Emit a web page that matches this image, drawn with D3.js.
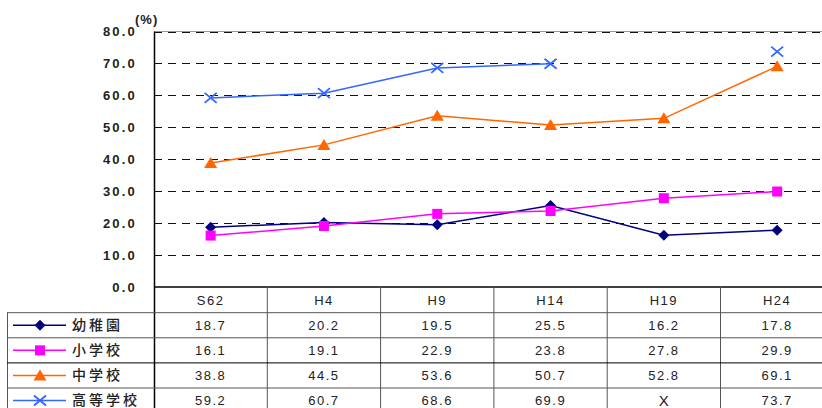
<!DOCTYPE html>
<html><head><meta charset="utf-8">
<script src="https://cdn.jsdelivr.net/npm/d3@7"></script>
<style>
html,body{margin:0;padding:0;background:#fff;}
svg{display:block;}
</style></head>
<body>
<script>
const categories = ["S62","H4","H9","H14","H19","H24"];
const seriesNames = ["幼稚園","小学校","中学校","高等学校"];
const kindergarten = [18.7,20.2,19.5,25.5,16.2,17.8];
const elementary = [16.1,19.1,22.9,23.8,27.8,29.9];
const juniorHigh = [38.8,44.5,53.6,50.7,52.8,69.1];
const highSchool = [59.2,60.7,68.6,69.9,null,73.7];
const yTicks = [0,10,20,30,40,50,60,70,80];
const missingLabel = "X";

(function(){
const series = [
  {name:seriesNames[0], values:kindergarten, color:"#000080", marker:"diamond"},
  {name:seriesNames[1], values:elementary, color:"#FF00FF", marker:"square"},
  {name:seriesNames[2], values:juniorHigh, color:"#FF6600", marker:"triangle"},
  {name:seriesNames[3], values:highSchool, color:"#3366FF", marker:"cross"}
];

const W = 822, H = 408;
const plotLeft = 154, colW = 113.3;
const plotTop = 31.5, plotBottom = 287;
const tableLeft = 7;
const headerBottom = 312.7, rowH = 25.1;

const svg = d3.select("body").append("svg").attr("width", W).attr("height", H);

const x = d3.scaleBand().domain(categories).range([plotLeft, plotLeft + colW*categories.length]).padding(0);
const y = d3.scaleLinear().domain([0,80]).range([plotBottom, plotTop]);

// gridlines
svg.append("line").attr("x1", plotLeft).attr("x2", W).attr("y1", y(80)).attr("y2", y(80))
  .attr("stroke", "#999").attr("stroke-width", 1);
svg.append("g").selectAll("line").data(yTicks.filter(t => t > 0)).join("line")
  .attr("x1", plotLeft).attr("x2", W)
  .attr("y1", d => Math.round(y(d))+0.5).attr("y2", d => Math.round(y(d))+0.5)
  .attr("stroke", "#111").attr("stroke-width", 1).attr("stroke-dasharray", "8,6");

// y axis labels
const yAxis = d3.axisLeft(y).tickValues(yTicks).tickFormat(d3.format(".1f")).tickSize(0).tickPadding(17);
const yg = svg.append("g").attr("transform", `translate(${plotLeft},0)`).call(yAxis);
yg.select(".domain").remove();
yg.selectAll("text").attr("font-family", "'Liberation Sans', Arial, sans-serif")
  .attr("font-size", 13).attr("font-weight", "bold").attr("letter-spacing", "2.2px").attr("fill", "#222");

svg.append("text").attr("x", 135).attr("y", 24).text("(%)")
  .attr("font-family", "'Liberation Sans', Arial, sans-serif").attr("font-size", 13)
  .attr("font-weight", "bold").attr("letter-spacing", "1px").attr("fill", "#222");

// axis lines
svg.append("line").attr("x1", plotLeft+0.5).attr("x2", plotLeft+0.5).attr("y1", plotTop).attr("y2", H)
  .attr("stroke", "#000").attr("stroke-width", 1.5);
svg.append("line").attr("x1", plotLeft).attr("x2", W).attr("y1", plotBottom).attr("y2", plotBottom)
  .attr("stroke", "#000").attr("stroke-width", 1.5);

// table
const tbl = svg.append("g");
tbl.selectAll("line.v").data(categories).join("line").attr("class","v")
  .attr("x1", d => x(d) + x.bandwidth()).attr("x2", d => x(d) + x.bandwidth())
  .attr("y1", plotBottom).attr("y2", H).attr("stroke", "#555").attr("stroke-width", 1);
tbl.append("line").attr("x1", tableLeft+0.5).attr("x2", tableLeft+0.5).attr("y1", headerBottom).attr("y2", H)
  .attr("stroke", "#555");
const hLines = series.map((s,i) => headerBottom + i*rowH);
tbl.selectAll("line.h").data(hLines).join("line").attr("class","h")
  .attr("x1", tableLeft).attr("x2", W)
  .attr("y1", d => d).attr("y2", d => d)
  .attr("stroke", (d,i) => i === 2 ? "#000" : "#555").attr("stroke-width", 1);

const numFont = "'Liberation Sans', Arial, sans-serif";
tbl.selectAll("text.hd").data(categories).join("text").attr("class","hd")
  .attr("x", d => x(d) + x.bandwidth()/2).attr("y", (plotBottom + headerBottom)/2 + 5)
  .attr("text-anchor", "middle").attr("font-family", numFont).attr("font-size", 13)
  .attr("letter-spacing", "1.5px").attr("fill", "#222").text(d => d);

series.forEach((s, i) => {
  const cy = headerBottom + i*rowH + rowH/2;
  tbl.append("g").selectAll("text").data(s.values).join("text")
    .attr("x", (d,j) => x(categories[j]) + x.bandwidth()/2)
    .attr("y", d => d == null ? cy + 5.5 : cy + 4.5)
    .attr("text-anchor", "middle").attr("font-family", numFont)
    .attr("font-size", d => d == null ? 15 : 13).attr("letter-spacing", d => d == null ? "0px" : "1.5px")
    .attr("fill", "#222")
    .text(d => d == null ? missingLabel : d.toFixed(1));
});

function drawMarker(g, type, cx, cy, color) {
  if (type === "diamond") {
    g.append("path").attr("d", `M${cx},${cy-5.5}L${cx+5.5},${cy}L${cx},${cy+5.5}L${cx-5.5},${cy}Z`).attr("fill", color);
  } else if (type === "square") {
    g.append("rect").attr("x", cx-5).attr("y", cy-5).attr("width", 10).attr("height", 10).attr("fill", color);
  } else if (type === "triangle") {
    g.append("path").attr("d", `M${cx},${cy-6}L${cx+6.5},${cy+5}L${cx-6.5},${cy+5}Z`).attr("fill", color);
  } else if (type === "cross") {
    g.append("path").attr("d", `M${cx-6},${cy-5}L${cx+6},${cy+5}M${cx-6},${cy+5}L${cx+6},${cy-5}`)
      .attr("stroke", color).attr("stroke-width", 1.8).attr("fill", "none");
  }
}

series.forEach((s, i) => {
  const cy = headerBottom + i*rowH + rowH/2;
  const g = svg.append("g");
  g.append("line").attr("x1", 13).attr("x2", 66).attr("y1", cy).attr("y2", cy)
    .attr("stroke", s.color).attr("stroke-width", 1.5);
  drawMarker(g, s.marker, 40, cy, s.color);
  g.append("text").attr("x", 72).attr("y", cy + 4.5).text(s.name)
    .attr("font-family", "'Noto Sans CJK JP', sans-serif").attr("font-size", 14)
    .attr("font-weight", 500).attr("letter-spacing", "3px").attr("fill", "#222");
});

const line = d3.line().defined(d => d.v != null)
  .x(d => x(d.c) + x.bandwidth()/2).y(d => y(d.v));
series.forEach(s => {
  const pts = s.values.map((v,j) => ({c: categories[j], v}));
  const g = svg.append("g");
  g.append("path").datum(pts).attr("d", line).attr("fill", "none")
    .attr("stroke", s.color).attr("stroke-width", 1.5);
  pts.filter(p => p.v != null).forEach(p => drawMarker(g, s.marker, x(p.c) + x.bandwidth()/2, y(p.v), s.color));
});
})();
</script>
</body></html>
